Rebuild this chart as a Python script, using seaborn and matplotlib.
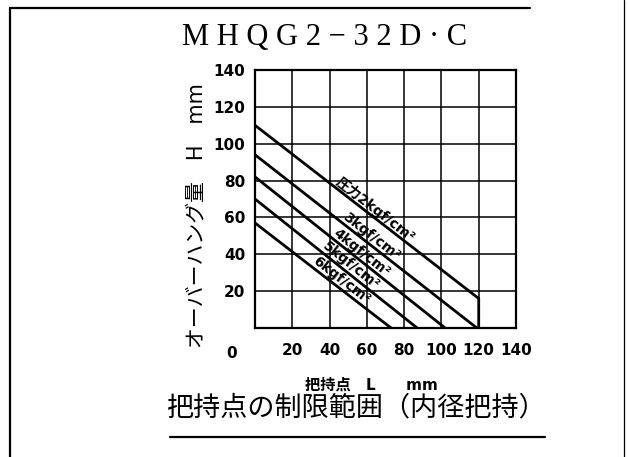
import math

import matplotlib
import matplotlib.pyplot as plt
import pandas as pd
import seaborn as sns
from matplotlib import font_manager
from matplotlib.lines import Line2D

matplotlib.use('Agg')

# grip point L (mm) vs. allowed overhang H (mm), one curve per supply pressure
pressure_labels = ["圧力2kgf/cm²", "3kgf/cm²", "4kgf/cm²", "5kgf/cm²", "6kgf/cm²"]
L_2kgf = [0, 120, 120]
H_2kgf = [110, 16, 0]
L_3kgf = [0, 119]
H_3kgf = [94, 0]
L_4kgf = [0, 102]
H_4kgf = [82, 0]
L_5kgf = [0, 87]
H_5kgf = [70, 0]
L_6kgf = [0, 73]
H_6kgf = [57, 0]

x_ticks = [0, 20, 40, 60, 80, 100, 120, 140]
y_ticks = [0, 20, 40, 60, 80, 100, 120, 140]

model_title = "M H Q G 2 − 3 2 D · C"
chart_title = "把持点の制限範囲（内径把持）"
x_label = "把持点　L　　mm"
y_label = "オーバーハング量　H　mm"


def main():
    sns.set_style("white")
    plt.rcParams['font.family'] = ['DejaVu Sans', 'Noto Sans CJK JP']
    plt.rcParams.update({'text.color': 'black', 'axes.labelcolor': 'black',
                         'xtick.color': 'black', 'ytick.color': 'black'})

    names = {f.name for f in font_manager.fontManager.ttflist}
    if "Liberation Sans Narrow" in names:
        tick_font = dict(family="Liberation Sans Narrow", size=14, weight="bold")
    else:
        tick_font = dict(family="DejaVu Sans", size=11, weight="bold")

    frames = []
    for name, Ls, Hs in zip(pressure_labels,
                            [L_2kgf, L_3kgf, L_4kgf, L_5kgf, L_6kgf],
                            [H_2kgf, H_3kgf, H_4kgf, H_5kgf, H_6kgf]):
        frames.append(pd.DataFrame({"L": Ls, "H": Hs, "pressure": name}))
    df = pd.concat(frames, ignore_index=True)

    fig = plt.figure(figsize=(6.28, 4.57), dpi=100)
    ax = fig.add_axes([255 / 628, 1 - 328 / 457, 261 / 628, 258 / 457])

    sns.lineplot(data=df, x="L", y="H", hue="pressure",
                 palette={p: "black" for p in pressure_labels},
                 sort=False, estimator=None, legend=False,
                 linewidth=2.0, ax=ax)

    ax.set_xlim(0, 140)
    ax.set_ylim(0, 140)
    ax.set_xticks(x_ticks)
    ax.set_xticklabels([""] + [str(t) for t in x_ticks[1:]], fontdict=tick_font)
    ax.set_yticks(y_ticks)
    ax.set_yticklabels([""] + [str(t) for t in y_ticks[1:]], fontdict=tick_font)
    ax.tick_params(axis="x", length=0, pad=11)
    ax.tick_params(axis="y", length=0, pad=7)
    ax.annotate("0", xy=(0, 0), xycoords="data", xytext=(-17, -18),
                textcoords="offset points", ha="center", va="center",
                fontfamily=tick_font["family"], fontsize=tick_font["size"],
                fontweight="bold")

    ax.grid(True, color="black", linewidth=1.1)
    ax.set_axisbelow(True)
    for s in ax.spines.values():
        s.set_color("black")
        s.set_linewidth(1.6)

    ax.set_xlabel(x_label, fontsize=11, fontweight="bold", va="center")
    ax.xaxis.set_label_coords(0.448, -0.222)
    ax.set_ylabel(y_label, fontsize=15, va="center")
    ax.yaxis.set_label_coords(-0.226, 0.434)

    # curve labels sit just above each line, rotated along it
    label_at = [62, 60, 55, 49, 44]
    for name, Ls, Hs, xc in zip(pressure_labels,
                                [L_2kgf, L_3kgf, L_4kgf, L_5kgf, L_6kgf],
                                [H_2kgf, H_3kgf, H_4kgf, H_5kgf, H_6kgf],
                                label_at):
        slope = (Hs[1] - Hs[0]) / (Ls[1] - Ls[0])
        yc = Hs[0] + slope * (xc - Ls[0])
        p0 = ax.transData.transform((Ls[0], Hs[0]))
        p1 = ax.transData.transform((Ls[1], Hs[1]))
        ang = math.degrees(math.atan2(p1[1] - p0[1], p1[0] - p0[0]))
        off = 5.0
        dx = -math.sin(math.radians(ang)) * off
        dy = math.cos(math.radians(ang)) * off
        ax.annotate(name, xy=(xc, yc), xytext=(dx, dy), textcoords="offset points",
                    rotation=ang, rotation_mode="anchor", ha="center", va="center",
                    fontsize=10, fontweight="bold")

    fig.text(325 / 628, 1 - 38 / 457, model_title, ha="center", va="center",
             fontsize=22, family=["Liberation Serif", "DejaVu Serif"])
    fig.text(356 / 628, 1 - 408 / 457, chart_title, ha="center", va="center",
             fontsize=19.5, family=["Noto Sans CJK JP"])

    # page frame and title underline
    fig.add_artist(Line2D([10 / 628, 530 / 628], [1 - 8 / 457] * 2, color="black", lw=1.6))
    fig.add_artist(Line2D([10 / 628] * 2, [1 - 8 / 457, 0], color="black", lw=1.6))
    fig.add_artist(Line2D([624 / 628] * 2, [1, 0], color="black", lw=0.9))
    fig.add_artist(Line2D([170 / 628, 545 / 628], [1 - 437 / 457] * 2, color="black", lw=1.6))

    fig.savefig("out.png", dpi=100)
    plt.close(fig)


if __name__ == "__main__":
    main()
